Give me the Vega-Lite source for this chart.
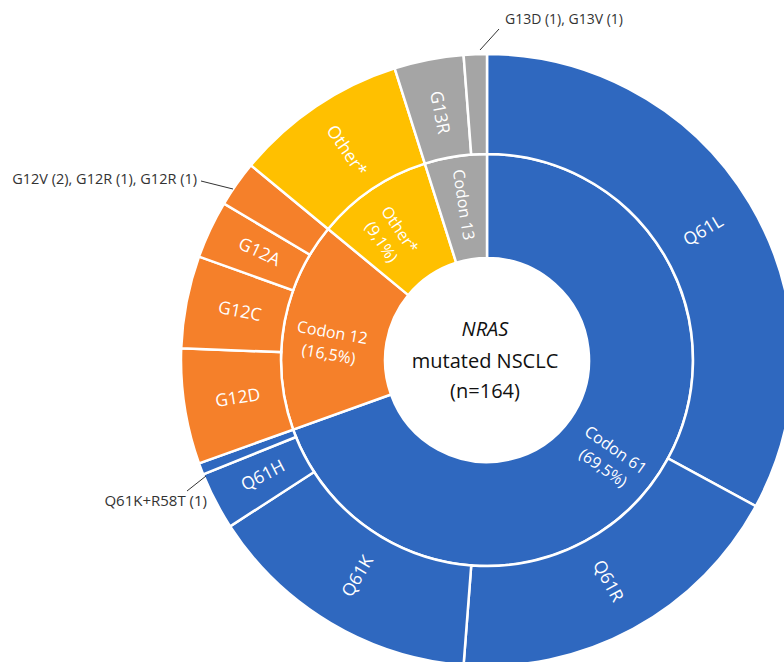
{
  "$schema": "https://vega.github.io/schema/vega-lite/v6.json",
  "width": 784,
  "height": 662,
  "autosize": "none",
  "padding": 0,
  "background": "white",
  "config": {"view": {"stroke": null}, "text": {"font": "Open Sans"}},
  "datasets": {
    "inner": [
      {"idx": 1, "codon": "Codon 61", "count": 114, "label": "Codon 61\n(69,5%)"},
      {"idx": 2, "codon": "Codon 12", "count": 27, "label": "Codon 12\n(16,5%)"},
      {"idx": 3, "codon": "Other*", "count": 15, "label": "Other*\n(9,1%)"},
      {"idx": 4, "codon": "Codon 13", "count": 8, "label": "Codon 13"}
    ],
    "outer": [
      {"idx": 1, "codon": "Codon 61", "mutation": "Q61L", "count": 54, "label": "Q61L"},
      {"idx": 2, "codon": "Codon 61", "mutation": "Q61R", "count": 30, "label": "Q61R"},
      {"idx": 3, "codon": "Codon 61", "mutation": "Q61K", "count": 24, "label": "Q61K"},
      {"idx": 4, "codon": "Codon 61", "mutation": "Q61H", "count": 5, "label": "Q61H"},
      {"idx": 5, "codon": "Codon 61", "mutation": "Q61K+R58T", "count": 1, "label": ""},
      {"idx": 6, "codon": "Codon 12", "mutation": "G12D", "count": 10, "label": "G12D"},
      {"idx": 7, "codon": "Codon 12", "mutation": "G12C", "count": 8, "label": "G12C"},
      {"idx": 8, "codon": "Codon 12", "mutation": "G12A", "count": 5, "label": "G12A"},
      {"idx": 9, "codon": "Codon 12", "mutation": "G12V, G12R", "count": 4, "label": ""},
      {"idx": 10, "codon": "Other*", "mutation": "Other*", "count": 15, "label": "Other*"},
      {"idx": 11, "codon": "Codon 13", "mutation": "G13R", "count": 6, "label": "G13R"},
      {"idx": 12, "codon": "Codon 13", "mutation": "G13D, G13V", "count": 2, "label": ""}
    ]
  },
  "layer": [
    {
      "data": {"name": "inner"},
      "mark": {"type": "arc", "radius": 206, "radius2": 102, "stroke": "white", "strokeWidth": 2.5},
      "encoding": {
        "x": {"datum": 0, "type": "quantitative", "scale": {"domain": [-487, 297], "nice": false, "zero": false}, "axis": null},
        "y": {"datum": 0, "type": "quantitative", "scale": {"domain": [-302, 360], "nice": false, "zero": false}, "axis": null},
        "theta": {"field": "count", "type": "quantitative", "stack": true, "scale": {"domain": [0, 164]}},
        "order": {"field": "idx", "type": "quantitative"},
        "color": {"field": "codon", "type": "nominal", "scale": {"domain": ["Codon 61", "Codon 12", "Other*", "Codon 13"], "range": ["#2F68BF", "#F5802A", "#FFC000", "#A5A5A5"]}, "legend": null}
      }
    },
    {
      "data": {"name": "outer"},
      "mark": {"type": "arc", "radius": 306, "radius2": 206, "stroke": "white", "strokeWidth": 2.5},
      "encoding": {
        "x": {"datum": 0, "type": "quantitative", "axis": null},
        "y": {"datum": 0, "type": "quantitative", "axis": null},
        "theta": {"field": "count", "type": "quantitative", "stack": true},
        "order": {"field": "idx", "type": "quantitative"},
        "color": {"field": "codon", "type": "nominal", "legend": null}
      }
    },
    {
      "data": {"name": "inner"},
      "mark": {"type": "text", "radius": 157, "color": "white", "fontSize": 16, "lineBreak": "\n", "lineHeight": 22, "align": "center", "baseline": "middle",
        "angle": {"expr": "((datum.count_start + datum.count_end) * 180 / 164 - 90) > 90 ? ((datum.count_start + datum.count_end) * 180 / 164 - 270) : ((datum.count_start + datum.count_end) * 180 / 164 - 90)"}},
      "encoding": {
        "x": {"datum": 0, "type": "quantitative", "axis": null},
        "y": {"datum": 0, "type": "quantitative", "axis": null},
        "theta": {"field": "count", "type": "quantitative", "stack": true},
        "order": {"field": "idx", "type": "quantitative"},
        "text": {"field": "label", "type": "nominal"}
      }
    },
    {
      "data": {"name": "outer"},
      "mark": {"type": "text", "radius": 252, "color": "white", "fontSize": 17.5, "align": "center", "baseline": "middle",
        "angle": {"expr": "((datum.count_start + datum.count_end) * 180 / 164 - 90) > 90 ? ((datum.count_start + datum.count_end) * 180 / 164 - 270) : ((datum.count_start + datum.count_end) * 180 / 164 - 90)"}},
      "encoding": {
        "x": {"datum": 0, "type": "quantitative", "axis": null},
        "y": {"datum": 0, "type": "quantitative", "axis": null},
        "theta": {"field": "count", "type": "quantitative", "stack": true},
        "order": {"field": "idx", "type": "quantitative"},
        "text": {"field": "label", "type": "nominal"}
      }
    },
    {
      "data": {"values": [{}]},
      "mark": {"type": "text", "fontSize": 20, "fontStyle": "italic", "color": "#111111", "align": "center", "baseline": "middle"},
      "encoding": {
        "x": {"datum": -2, "type": "quantitative", "axis": null},
        "y": {"datum": 30, "type": "quantitative", "axis": null},
        "text": {"value": "NRAS"}
      }
    },
    {
      "data": {"values": [{}]},
      "mark": {"type": "text", "fontSize": 20, "color": "#111111", "align": "center", "baseline": "middle"},
      "encoding": {
        "x": {"datum": -2, "type": "quantitative", "axis": null},
        "y": {"datum": -2, "type": "quantitative", "axis": null},
        "text": {"value": "mutated NSCLC"}
      }
    },
    {
      "data": {"values": [{}]},
      "mark": {"type": "text", "fontSize": 20, "color": "#111111", "align": "center", "baseline": "middle"},
      "encoding": {
        "x": {"datum": -2, "type": "quantitative", "axis": null},
        "y": {"datum": -32, "type": "quantitative", "axis": null},
        "text": {"value": "(n=164)"}
      }
    },
    {
      "data": {"values": [{}]},
      "mark": {"type": "text", "fontSize": 14, "color": "#333333", "align": "left", "baseline": "middle"},
      "encoding": {
        "x": {"datum": 18, "type": "quantitative", "axis": null},
        "y": {"datum": 340, "type": "quantitative", "axis": null},
        "text": {"value": "G13D (1), G13V (1)"}
      }
    },
    {
      "data": {"values": [{}]},
      "mark": {"type": "text", "fontSize": 14.5, "color": "#333333", "align": "right", "baseline": "middle"},
      "encoding": {
        "x": {"datum": -290, "type": "quantitative", "axis": null},
        "y": {"datum": 180, "type": "quantitative", "axis": null},
        "text": {"value": "G12V (2), G12R (1), G12R (1)"}
      }
    },
    {
      "data": {"values": [{}]},
      "mark": {"type": "text", "fontSize": 15, "color": "#333333", "align": "right", "baseline": "middle"},
      "encoding": {
        "x": {"datum": -280, "type": "quantitative", "axis": null},
        "y": {"datum": -141, "type": "quantitative", "axis": null},
        "text": {"value": "Q61K+R58T (1)"}
      }
    },
    {
      "data": {"values": [{}]},
      "mark": {"type": "rule", "color": "#333333", "strokeWidth": 1},
      "encoding": {
        "x": {"datum": -7, "type": "quantitative", "axis": null},
        "y": {"datum": 310, "type": "quantitative", "axis": null},
        "x2": {"datum": 12},
        "y2": {"datum": 331}
      }
    },
    {
      "data": {"values": [{}]},
      "mark": {"type": "rule", "color": "#333333", "strokeWidth": 1},
      "encoding": {
        "x": {"datum": -254, "type": "quantitative", "axis": null},
        "y": {"datum": 171, "type": "quantitative", "axis": null},
        "x2": {"datum": -286},
        "y2": {"datum": 179}
      }
    },
    {
      "data": {"values": [{}]},
      "mark": {"type": "rule", "color": "#333333", "strokeWidth": 1},
      "encoding": {
        "x": {"datum": -281, "type": "quantitative", "axis": null},
        "y": {"datum": -116, "type": "quantitative", "axis": null},
        "x2": {"datum": -300},
        "y2": {"datum": -131}
      }
    }
  ]
}
